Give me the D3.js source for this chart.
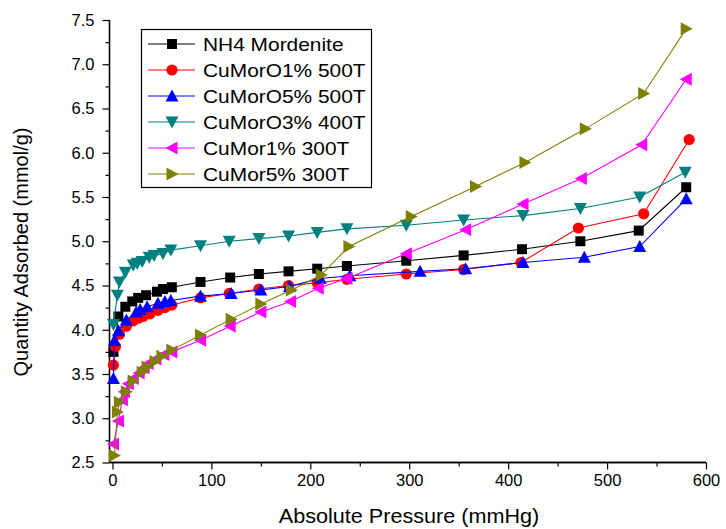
<!DOCTYPE html>
<html>
<head>
<meta charset="utf-8">
<script src="https://cdn.jsdelivr.net/npm/d3@7"></script>
<style>
  body { margin: 0; background: #fff; }
  text { font-family: Arial, "Liberation Sans", sans-serif; fill: #000; }
</style>
</head>
<body>
<div id="chart"></div>
<script>
// values (pressure mmHg, quantity mmol/g)
var nh4P = [1, 6, 13, 20, 26, 34, 45, 51, 60, 89, 119, 148, 178, 207, 237, 297, 355, 414, 473, 532, 580]
var nh4Q = [3.75, 4.15, 4.26, 4.32, 4.36, 4.39, 4.43, 4.46, 4.48, 4.54, 4.59, 4.63, 4.66, 4.69, 4.72, 4.78, 4.84, 4.91, 5.00, 5.12, 5.61]

var cu1_500P = [1, 3, 7, 14, 21, 26, 31, 38, 46, 53, 60, 89, 118, 148, 178, 207, 237, 297, 355, 413, 471, 537, 583]
var cu1_500Q = [3.60, 3.81, 3.95, 4.04, 4.10, 4.13, 4.15, 4.18, 4.22, 4.25, 4.28, 4.36, 4.41, 4.46, 4.50, 4.53, 4.57, 4.63, 4.68, 4.76, 5.15, 5.31, 6.15]

var cu5_500P = [1, 2, 6, 14, 24, 28, 35, 46, 53, 59, 89, 120, 150, 179, 210, 240, 311, 357, 415, 477, 533, 580]
var cu5_500Q = [3.45, 3.88, 3.99, 4.11, 4.20, 4.23, 4.26, 4.30, 4.32, 4.33, 4.38, 4.41, 4.45, 4.49, 4.58, 4.61, 4.66, 4.69, 4.76, 4.82, 4.94, 5.48]

var cu3_400P = [1, 5, 7, 13, 21, 25, 30, 37, 42, 51, 59, 89, 118, 148, 178, 207, 237, 297, 355, 415, 473, 533, 579]
var cu3_400Q = [4.06, 4.39, 4.54, 4.65, 4.73, 4.75, 4.77, 4.82, 4.84, 4.86, 4.90, 4.95, 5.00, 5.03, 5.06, 5.10, 5.14, 5.18, 5.24, 5.29, 5.37, 5.50, 5.78]

var cu1_300P = [1, 6, 10, 12, 16, 21, 27, 32, 36, 44, 52, 60, 89, 119, 150, 180, 208, 237, 297, 357, 415, 474, 535, 580]
var cu1_300Q = [2.71, 2.97, 3.21, 3.30, 3.39, 3.45, 3.51, 3.57, 3.62, 3.67, 3.72, 3.75, 3.88, 4.04, 4.20, 4.32, 4.47, 4.58, 4.86, 5.13, 5.42, 5.71, 6.09, 6.83]

var cu5_300P = [2, 5, 7, 14, 21, 30, 35, 43, 50, 60, 89, 120, 150, 181, 211, 239, 302, 367, 417, 478, 537, 580]
var cu5_300Q = [2.58, 3.07, 3.18, 3.30, 3.42, 3.52, 3.58, 3.64, 3.70, 3.77, 3.94, 4.12, 4.29, 4.45, 4.62, 4.94, 5.28, 5.62, 5.89, 6.27, 6.67, 7.40]

var seriesNames = ['NH4 Mordenite', 'CuMorO1% 500T', 'CuMorO5% 500T', 'CuMorO3% 400T', 'CuMor1% 300T', 'CuMor5% 300T']
var seriesColors = ['#000000', '#ff0000', '#0000ff', '#008080', '#ff00ff', '#808000']
var seriesShapes = ['square', 'circle', 'up', 'down', 'left', 'right']

var xTicks = [0, 100, 200, 300, 400, 500, 600]
var yTicks = [2.5, 3.0, 3.5, 4.0, 4.5, 5.0, 5.5, 6.0, 6.5, 7.0, 7.5]

var series = [
    {P: nh4P, Q: nh4Q},
    {P: cu1_500P, Q: cu1_500Q},
    {P: cu5_500P, Q: cu5_500Q},
    {P: cu3_400P, Q: cu3_400Q},
    {P: cu1_300P, Q: cu1_300Q},
    {P: cu5_300P, Q: cu5_300Q},
].map((s, i) => ({
    name: seriesNames[i],
    color: seriesColors[i],
    shape: seriesShapes[i],
    values: s.P.map((p, j) => ({p: p, q: s.Q[j]}))
}))

var width = 726, height = 529

var svg = d3.select("#chart").append("svg")
    .attr("width", width)
    .attr("height", height)

var xScale = d3.scaleLinear().domain([-3, 600]).range([109.5, 706])
var yScale = d3.scaleLinear().domain([2.5, 7.5]).range([462.5, 20])

// marker path, centred on its box like Origin does
var marker = (shape) => {
    var h = 6.5
    if (shape == 'square') return 'M-5,-5H5V5H-5Z'
    if (shape == 'circle') return d3.symbol().type(d3.symbolCircle).size(Math.PI * 5.6 * 5.6)()
    if (shape == 'up') return `M0,${-h}L${h},${h * 0.85}L${-h},${h * 0.85}Z`
    if (shape == 'down') return `M0,${h}L${h},${-h * 0.85}L${-h},${-h * 0.85}Z`
    if (shape == 'left') return `M${-h},0L${h * 0.85},${-h}L${h * 0.85},${h}Z`
    return `M${h},0L${-h * 0.85},${-h}L${-h * 0.85},${h}Z`
}

/* axes */
var xAxis = d3.axisBottom(xScale).tickValues(xTicks).tickSize(7).tickPadding(5).tickFormat(d3.format('d'))
var xMinor = d3.axisBottom(xScale).tickValues(d3.range(50, 600, 100)).tickSize(4).tickFormat('')
var yAxis = d3.axisLeft(yScale).tickValues(yTicks).tickSize(7).tickPadding(8).tickFormat(d3.format('.1f'))
var yMinor = d3.axisLeft(yScale).tickValues(d3.range(2.75, 7.5, 0.5)).tickSize(4).tickFormat('')

var gx = svg.append("g").attr("transform", `translate(0, ${yScale(2.5)})`)
gx.call(xAxis)
gx.append("g").call(xMinor)
var gy = svg.append("g").attr("transform", `translate(${xScale(-3)}, 0)`)
gy.call(yAxis)
gy.append("g").call(yMinor)

svg.selectAll(".domain").attr("stroke", "#000").attr("stroke-width", 1.3)
svg.selectAll(".tick line").attr("stroke", "#000").attr("stroke-width", 1.2)
svg.selectAll(".tick text").style("font-size", "16.5px").style("font-family", "Arial, 'Liberation Sans', sans-serif").attr("fill", "#000")
// keep the shifted domain ends flat (no outer ticks)
gx.selectAll(".domain").attr("d", `M${xScale(-3)},0H${xScale(600)}`)
gy.selectAll(".domain").attr("d", `M0,${yScale(2.5)}V${yScale(7.5)}`)

/* titles */
var xTitle = svg.append("text")
    .attr("x", 409).attr("y", 523)
    .attr("text-anchor", "middle")
    .style("font-size", "20px")
    .text("Absolute Pressure (mmHg)")
xTitle.attr("textLength", xTitle.node().getComputedTextLength() * 1.08).attr("lengthAdjust", "spacingAndGlyphs")

svg.append("text")
    .attr("transform", "translate(28, 252) rotate(-90)")
    .attr("text-anchor", "middle")
    .style("font-size", "20px")
    .text("Quantity Adsorbed (mmol/g)")

/* lines and markers */
var line = d3.line().x(d => xScale(d.p)).y(d => yScale(d.q))

var groups = svg.append('g').attr('class', 'series')
    .selectAll('g').data(series).enter()
    .append('g')

groups.append('path')
    .attr('d', d => line(d.values))
    .attr('fill', 'none')
    .attr('stroke', d => d.color)
    .attr('stroke-width', 1.1)

groups.each(function (s) {
    d3.select(this).selectAll('.pt')
        .data(s.values).enter()
        .append('path')
        .attr('class', 'pt')
        .attr('d', marker(s.shape))
        .attr('fill', s.color)
        .attr('transform', d => `translate(${xScale(d.p)},${yScale(d.q)})`)
})

/* legend */
var legend = svg.append('g').attr('class', 'legend')
legend.append('rect')
    .attr('x', 141.5).attr('y', 29.5)
    .attr('width', 230).attr('height', 158)
    .attr('fill', '#fff')
    .attr('stroke', '#000')
    .attr('stroke-width', 1.2)

var items = legend.selectAll('.item').data(series).enter()
    .append('g')
    .attr('class', 'item')
    .attr('transform', (d, i) => `translate(0, ${44 + i * 26})`)

items.append('line')
    .attr('x1', 148).attr('x2', 195)
    .attr('stroke', d => d.color)
    .attr('stroke-width', 1.2)
items.append('path')
    .attr('d', d => marker(d.shape))
    .attr('fill', d => d.color)
    .attr('transform', 'translate(172, 0)')
items.append('text')
    .attr('x', 203).attr('y', 7)
    .style('font-size', '19px')
    .text(d => d.name)
    .each(function () {
        d3.select(this).attr('textLength', this.getComputedTextLength() * 1.1).attr('lengthAdjust', 'spacingAndGlyphs')
    })
</script>
</body>
</html>
